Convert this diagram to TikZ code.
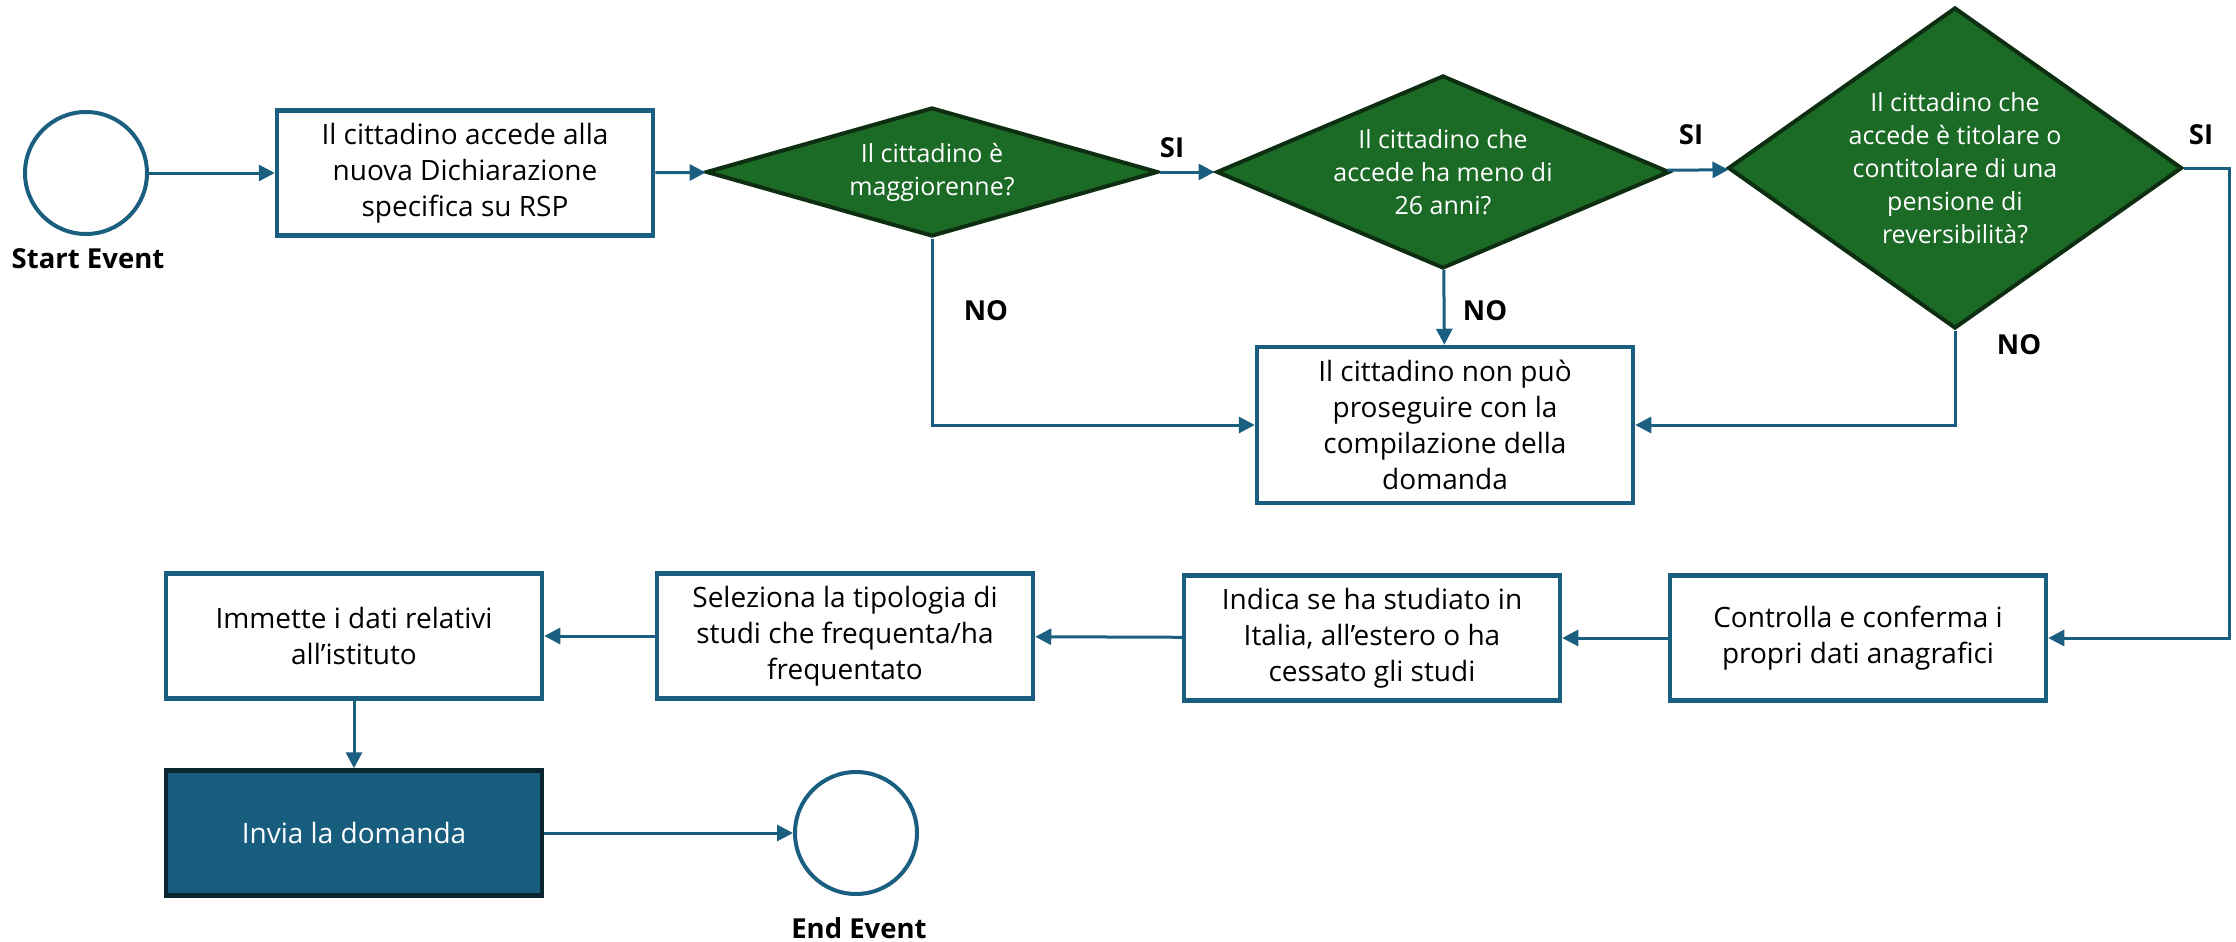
\documentclass[tikz,border=0pt]{standalone}
\usepackage{fontspec}
\setmainfont{Open Sans}
\usetikzlibrary{shapes.geometric,arrows.meta}
\definecolor{flowblue}{RGB}{26,94,128}
\definecolor{gatefill}{RGB}{27,106,38}
\definecolor{gateline}{RGB}{14,46,18}
\definecolor{sendfill}{RGB}{23,94,126}
\definecolor{sendline}{RGB}{10,36,48}
\begin{document}
\begin{tikzpicture}[x=1pt,y=-1pt,
    task/.style={draw=flowblue, line width=4.5pt, fill=white, minimum width=376pt,
      minimum height=125pt, inner sep=0pt, align=center, font=\fontsize{28}{36}\selectfont},
    gate/.style={diamond, draw=gateline, line width=4pt, fill=gatefill, text=white,
      inner sep=0pt, align=center, font=\fontsize{25}{33}\selectfont},
    event/.style={circle, draw=flowblue, line width=4pt, minimum size=122pt, inner sep=0pt},
    tag/.style={font=\fontsize{27.5}{32}\selectfont\bfseries},
    flow/.style={draw=flowblue, line width=3pt, -{Triangle[length=16pt,width=16pt]}}]
  \useasboundingbox (0,0) rectangle (2236,942);

  % top row
  \node[event] (start) at (86,173) {};
  \node[tag] (startlabel) at (88,259) {Start Event};
  \node[task] (access) at (465,173) {Il cittadino accede alla\\nuova Dichiarazione\\specifica su RSP};
  \node[gate, minimum width=452pt, minimum height=129pt, shape aspect=3.5] (adult) at (932,172)
    {Il cittadino è\\maggiorenne?};
  \node[gate, minimum width=453pt, minimum height=193pt, shape aspect=2.35] (young) at (1443,172)
    {Il cittadino che\\accede ha meno di\\26 anni?};
  \node[gate, minimum width=454pt, minimum height=321pt, shape aspect=1.41] (pension) at (1955,168)
    {Il cittadino che\\accede è titolare o\\contitolare di una\\pensione di\\reversibilità?};
  \node[task, minimum height=156pt] (stop) at (1445,425)
    {Il cittadino non può\\proseguire con la\\compilazione della\\domanda};

  % bottom rows
  \node[task] (check) at (1858,638) {Controlla e conferma i\\propri dati anagrafici};
  \node[task] (studies) at (1372,638) {Indica se ha studiato in\\Italia, all’estero o ha\\cessato gli studi};
  \node[task] (type) at (845,636) {Seleziona la tipologia di\\studi che frequenta/ha\\frequentato};
  \node[task] (school) at (354,636) {Immette i dati relativi\\all’istituto};
  \node[task, draw=sendline, fill=sendfill, text=white] (send) at (354,833) {Invia la domanda};
  \node[event] (finish) at (856,833) {};
  \node[tag] (finishlabel) at (859,928) {End Event};

  % branch labels
  \node[tag] (si1) at (1172,148) {SI};
  \node[tag] (si2) at (1691,135) {SI};
  \node[tag] (si3) at (2201,135) {SI};
  \node[tag] (no1) at (986,311) {NO};
  \node[tag] (no2) at (1485,311) {NO};
  \node[tag] (no3) at (2019,345) {NO};

  % connectors
  \coordinate (turn) at (2229,168);
  \draw[flow] (start) -- (access);
  \draw[flow] (access) -- (adult);
  \draw[flow] (adult) -- (young);
  \draw[flow] (young) -- (pension);
  \draw[flow] (pension.east) -- (turn) |- (check.east);
  \draw[flow] (adult.south) |- (stop.west);
  \draw[flow] (young) -- (stop);
  \draw[flow] (pension.south) |- (stop.east);
  \draw[flow] (check) -- (studies);
  \draw[flow] (studies) -- (type);
  \draw[flow] (type) -- (school);
  \draw[flow] (school) -- (send);
  \draw[flow] (send) -- (finish);
\end{tikzpicture}
\end{document}
